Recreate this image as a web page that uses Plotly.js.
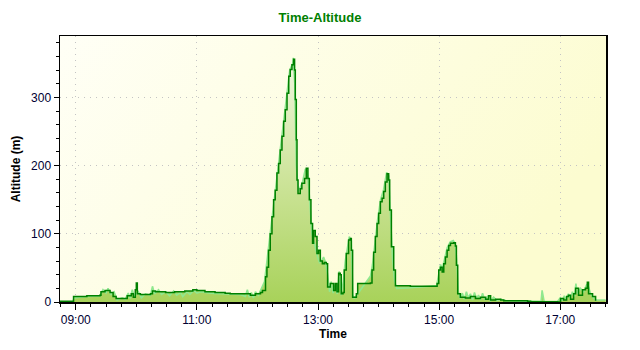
<!DOCTYPE html>
<html>
<head>
<meta charset="utf-8">
<script src="https://cdn.plot.ly/plotly-3.0.1.min.js"></script>
<style>html,body{margin:0;padding:0;background:#fff}#chart{width:640px;height:350px}</style>
</head>
<body>
<div id="chart"></div>
<script>
// Dark green (main) altitude trace
const darkTimes = ["08:44:24","08:57:20","08:57:50","09:11","09:24","09:25","09:29","09:34","09:37","09:40","09:46","09:51","09:55","09:57","09:59","10:00","10:01","10:04","10:09","10:14","10:16","10:19","10:29","10:38","10:48","10:56","11:00","11:08","11:18","11:28","11:33","11:48","11:53","11:58","12:03","12:05","12:08","12:09:24","12:11","12:12:40","12:14:24","12:16","12:17:36","12:19:18","12:21","12:22:36","12:24:18","12:26","12:27:36","12:29:18","12:31","12:32:30","12:34:12","12:35:48","12:36:48","12:37:30","12:38:30","12:39:12","12:40:12","12:42:24","12:44","12:46:42","12:48:24","12:50","12:51:24","12:53","12:54:36","12:55:36","12:57:18","12:59","13:00:36","13:02:18","13:04:18","13:06:12","13:08:12","13:09:30","13:12:12","13:15:30","13:17:12","13:18:48","13:20:24","13:22","13:23","13:24:48","13:26","13:28","13:30:18","13:32","13:33","13:34:18","13:38","13:39:18","13:51:54","13:53:30","13:55:06","13:56:48","13:58:30","14:00:06","14:01:48","14:03:30","14:05:06","14:06:42","14:08:24","14:10","14:11","14:12:42","14:15","14:16:42","14:31:30","14:58","14:59:36","15:01:18","15:03","15:04:36","15:06:12","15:07:54","15:09:30","15:11:12","15:14:30","15:16:06","15:17:06","15:18:24","15:21","15:26","15:31","15:36","15:41","15:46","15:49","15:51","15:56","16:01","16:04","16:27:36","16:30:36","16:45:30","16:57:24","17:00:18","17:03:18","17:06:18","17:08:12","17:10:12","17:13:12","17:15:12","17:18:06","17:22","17:25","17:26:48","17:28","17:32","17:35"];
const darkAlt = [1,1,8,9,10,15,17,14,8,5,5,9,12,7,18,28,12,11,11,12,16,15,14,15,16,18,17,15,14,13,12,12,10,12,14,17,37,51,76,100,125,150,164,189,203,223,243,265,282,306,331,341,348,356,340,297,238,179,159,166,174,181,196,181,150,115,86,105,96,71,76,60,56,58,56,22,27,17,27,15,42,40,12,14,47,71,91,93,76,7,12,27,28,47,73,96,115,130,147,152,162,176,188,179,135,81,47,24,23,27,47,51,44,56,66,76,83,86,87,82,54,12,7,6,8,5,7,4,9,3,4,3,2,1,0.5,0.5,0,5,3,8,10,4,12,20,10,18,20,29,12,8,2];

// Light green (raw) altitude trace
const lightTimes = ["08:57:20","08:58:20","09:11","09:24","09:27","09:30","09:32","09:35","09:38","09:41","09:46","09:49","09:52","09:54","09:56","09:58","10:02","10:05","10:09","10:14","10:16","10:18","10:22","10:25","10:29","10:33","10:37","10:40","10:44","10:46","10:50","10:53","10:57","11:00","11:04","11:13","11:23","11:33","11:43","11:48","11:50","11:52","11:54","11:56","11:58","12:01","12:04","12:07","12:11","12:15","12:19","12:23","12:27","12:30","12:32","12:35","12:35:30","12:37","12:38:30","12:40:30","12:44:30","12:47:30","12:49","12:51","12:52:30","12:54","12:55:30","12:57:30","12:59:30","13:01:30","13:03:30","13:05:30","13:07:30","13:09:30","13:11:30","13:13","13:15","13:17","13:19","13:21","13:23","13:25","13:27","13:29","13:31","13:33","13:34:30","13:36","13:52","13:54","13:56","13:59","14:02","14:05","14:08","14:10","14:12","14:14","14:16","14:18","14:31:30","14:57:30","14:59:30","15:01:30","15:03","15:05","15:08","15:11","15:14","15:16","15:17:30","15:19","15:21","15:23","15:25","15:27","15:29","15:31","15:33","15:35","15:37","15:39","15:41","15:43","15:45","15:48","15:51","15:54","15:57","16:01","16:06","16:16","16:26","16:41","16:42","16:44","16:57","17:00","17:02","17:04","17:06","17:08","17:10","17:12","17:14","17:15:30","17:17","17:20","17:23","17:26","17:28","17:30","17:33","17:35","17:45"];
const lightAlt = [1,6,8,9,18,13,20,11,15,3,6,4,13,5,18,8,15,6,12,10,23,12,18,11,15,9,16,10,14,8,15,11,17,13,15,13,12,11,11,8,18,7,14,6,15,10,20,30,80,130,182,230,278,315,340,350,358,320,200,162,175,195,192,165,130,100,90,80,66,58,60,66,58,40,15,30,13,25,12,45,10,30,60,80,96,90,10,5,38,55,85,120,150,165,190,185,120,60,30,20,21,24,40,55,48,62,80,88,90,85,60,15,5,13,4,15,6,12,3,14,5,10,3,13,4,8,2,7,2,4,2,1.5,1,1,17,1,0.5,6,2,9,3,12,5,15,8,27,12,20,15,25,22,12,6,3,3];

const xTicks = ["09:00","11:00","13:00","15:00","17:00"];
const day = "2024-01-01 ";
const fx = t => day + (t.length === 5 ? t + ":00" : t);
const dX = darkTimes.map(fx), lX = lightTimes.map(fx);

const fillGrad = {type: "vertical", start: 0, stop: 360, colorscale: [[0, "#a8d25a"], [0.5, "#cde49a"], [1, "#f2f7e0"]]};

const traces = [
  {x: dX, y: darkAlt, type: "scatter", mode: "lines", line: {color: "rgba(0,0,0,0)", width: 0, shape: "hv"}, fill: "tozeroy", fillgradient: fillGrad, hoverinfo: "skip", showlegend: false},
  {x: lX, y: lightAlt, type: "scatter", mode: "lines", line: {color: "#8fe88f", width: 1.6}, fill: "tozeroy", fillgradient: fillGrad, showlegend: false},
  {x: dX, y: darkAlt, type: "scatter", mode: "lines", line: {color: "#008000", width: 1.5, shape: "hv"}, showlegend: false}
];

const bgSvg = '<svg xmlns="http://www.w3.org/2000/svg" width="100" height="100" preserveAspectRatio="none"><defs><linearGradient id="g" x1="0" y1="0" x2="1" y2="0.4"><stop offset="0" stop-color="#fffff6"/><stop offset="1" stop-color="#fcfcd0"/></linearGradient></defs><rect width="100" height="100" fill="url(#g)"/></svg>';

const axFont = {family: "Liberation Sans, Arial, sans-serif", size: 12, color: "#000033"};
const layout = {
  width: 640, height: 350,
  margin: {l: 60, r: 34, t: 36, b: 48},
  paper_bgcolor: "#ffffff",
  plot_bgcolor: "rgba(0,0,0,0)",
  title: {text: "<b>Time-Altitude</b>", font: {family: "Liberation Sans, Arial, sans-serif", size: 13, color: "#008000"}, x: 0.5, xanchor: "center", y: 0.95, yanchor: "middle"},
  images: [{source: "data:image/svg+xml;base64," + btoa(bgSvg), xref: "paper", yref: "paper", x: 0, y: 1, sizex: 1, sizey: 1, sizing: "stretch", layer: "below", xanchor: "left", yanchor: "top"}],
  xaxis: {
    type: "date",
    range: [day + "08:44:24", day + "17:45:18"],
    tickvals: xTicks.map(fx), ticktext: xTicks,
    tickfont: axFont,
    ticks: "outside", ticklen: 6, tickcolor: "#000",
    minor: {dtick: 15 * 60 * 1000, tick0: day + "09:00:00", ticks: "outside", ticklen: 3, tickcolor: "#000", showgrid: false},
    showline: true, linecolor: "#000", linewidth: 1.5, mirror: true,
    showgrid: true, gridcolor: "#c4c4c4", griddash: "1px,5px", gridwidth: 1,
    zeroline: false,
    title: {text: "<b>Time</b>", font: {family: "Liberation Sans, Arial, sans-serif", size: 12, color: "#000"}, standoff: 2}
  },
  xaxis2: {
    type: "date", matches: "x", overlaying: "x", side: "top",
    range: [day + "08:44:24", day + "17:45:18"],
    tickvals: xTicks.map(fx), showticklabels: false,
    ticks: "inside", ticklen: 4, tickcolor: "#000",
    minor: {dtick: 15 * 60 * 1000, tick0: day + "09:00:00", ticks: "inside", ticklen: 3, tickcolor: "#000"},
    showgrid: false, showline: false, zeroline: false
  },
  yaxis: {
    range: [0, 390],
    tickvals: [0, 100, 200, 300],
    tickfont: axFont,
    ticks: "outside", ticklen: 5, tickcolor: "#000",
    minor: {dtick: 20, ticks: "outside", ticklen: 3, tickcolor: "#000", showgrid: false},
    showline: true, linecolor: "#000", linewidth: 1.5, mirror: true,
    showgrid: true, gridcolor: "#c4c4c4", griddash: "1px,5px", gridwidth: 1,
    zeroline: false,
    title: {text: "<b>Altitude (m)</b>", font: {family: "Liberation Sans, Arial, sans-serif", size: 12, color: "#000"}, standoff: 8}
  },
  yaxis2: {
    range: [0, 390], matches: "y", overlaying: "y", side: "right",
    tickvals: [0, 100, 200, 300], showticklabels: false,
    ticks: "inside", ticklen: 5, tickcolor: "#000",
    minor: {dtick: 20, ticks: "inside", ticklen: 3, tickcolor: "#000"},
    showgrid: false, showline: false, zeroline: false
  }
};

Plotly.newPlot("chart", traces, layout, {displayModeBar: false, staticPlot: true});
</script>
</body>
</html>
